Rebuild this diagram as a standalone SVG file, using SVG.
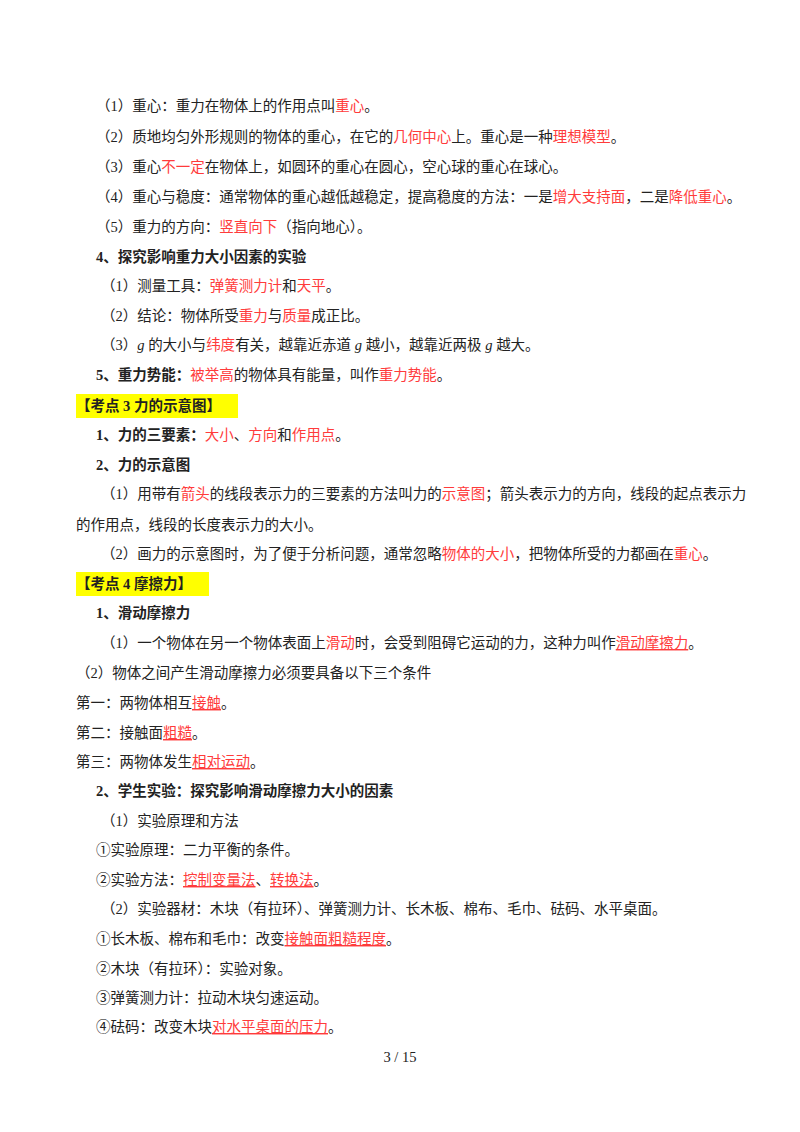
<svg xmlns="http://www.w3.org/2000/svg" width="800" height="1132" viewBox="0 0 800 1132">
<style>
text{font-family:"Liberation Serif","Noto Sans CJK SC",serif;font-size:14.5px;fill:#222}
.b{font-weight:bold}
.r{fill:#ff3b3b}
.u{fill:#ff3b3b;text-decoration:underline}
.i{font-style:italic}
</style>
<rect width="800" height="1132" fill="#fff"/>
<rect x="76" y="394" width="162" height="24" fill="#ffff00"/>
<rect x="76" y="572" width="133" height="24" fill="#ffff00"/>
<g id="text">
<text x="96" y="111">（1）重心：重力在物体上的作用点叫<tspan class="r">重心</tspan>。</text>
<text x="96" y="142">（2）质地均匀外形规则的物体的重心，在它的<tspan class="r">几何中心</tspan>上。重心是一种<tspan class="r">理想模型</tspan>。</text>
<text x="96" y="172">（3）重心<tspan class="r">不一定</tspan>在物体上，如圆环的重心在圆心，空心球的重心在球心。</text>
<text x="96" y="202">（4）重心与稳度：通常物体的重心越低越稳定，提高稳度的方法：一是<tspan class="r">增大支持面</tspan>，二是<tspan class="r">降低重心</tspan>。</text>
<text x="96" y="232">（5）重力的方向：<tspan class="r">竖直向下</tspan>（指向地心）。</text>
<text x="96" y="262" class="b">4、探究影响重力大小因素的实验</text>
<text x="101" y="291">（1）测量工具：<tspan class="r">弹簧测力计</tspan>和<tspan class="r">天平</tspan>。</text>
<text x="101" y="321">（2）结论：物体所受<tspan class="r">重力</tspan>与<tspan class="r">质量</tspan>成正比。</text>
<text x="101" y="350">（3）<tspan class="i">g</tspan> 的大小与<tspan class="r">纬度</tspan>有关，越靠近赤道 <tspan class="i">g</tspan> 越小，越靠近两极 <tspan class="i">g</tspan> 越大。</text>
<text x="96" y="380"><tspan class="b">5、重力势能：</tspan><tspan class="r">被举高</tspan>的物体具有能量，叫作<tspan class="r">重力势能</tspan>。</text>
<text x="76" y="411" class="b">【考点 3  力的示意图】</text>
<text x="96" y="440"><tspan class="b">1、力的三要素：</tspan><tspan class="r">大小</tspan>、<tspan class="r">方向</tspan>和<tspan class="r">作用点</tspan>。</text>
<text x="96" y="470" class="b">2、力的示意图</text>
<text x="101" y="499">（1）用带有<tspan class="r">箭头</tspan>的线段表示力的三要素的方法叫力的<tspan class="r">示意图</tspan>；箭头表示力的方向，线段的起点表示力</text>
<text x="76" y="530">的作用点，线段的长度表示力的大小。</text>
<text x="101" y="559">（2）画力的示意图时，为了便于分析问题，通常忽略<tspan class="r">物体的大小</tspan>，把物体所受的力都画在<tspan class="r">重心</tspan>。</text>
<text x="76" y="589" class="b">【考点 4  摩擦力】</text>
<text x="96" y="618" class="b">1、滑动摩擦力</text>
<text x="101" y="648">（1）一个物体在另一个物体表面上<tspan class="r">滑动</tspan>时，会受到阻碍它运动的力，这种力叫作<tspan class="u">滑动摩擦力</tspan>。</text>
<text x="76" y="678">（2）物体之间产生滑动摩擦力必须要具备以下三个条件</text>
<text x="76" y="708">第一：两物体相互<tspan class="u">接触</tspan>。</text>
<text x="76" y="738">第二：接触面<tspan class="u">粗糙</tspan>。</text>
<text x="76" y="767">第三：两物体发生<tspan class="u">相对运动</tspan>。</text>
<text x="96" y="796" class="b">2、学生实验：探究影响滑动摩擦力大小的因素</text>
<text x="101" y="826">（1）实验原理和方法</text>
<text x="96" y="855">①实验原理：二力平衡的条件。</text>
<text x="96" y="885">②实验方法：<tspan class="u">控制变量法</tspan>、<tspan class="u">转换法</tspan>。</text>
<text x="101" y="914">（2）实验器材：木块（有拉环）、弹簧测力计、长木板、棉布、毛巾、砝码、水平桌面。</text>
<text x="96" y="944">①长木板、棉布和毛巾：改变<tspan class="u">接触面粗糙程度</tspan>。</text>
<text x="96" y="974">②木块（有拉环）：实验对象。</text>
<text x="96" y="1003">③弹簧测力计：拉动木块匀速运动。</text>
<text x="96" y="1032">④砝码：改变木块<tspan class="u">对水平桌面的压力</tspan>。</text>
<text x="400" y="1062" text-anchor="middle">3 / 15</text>
</g>
</svg>
